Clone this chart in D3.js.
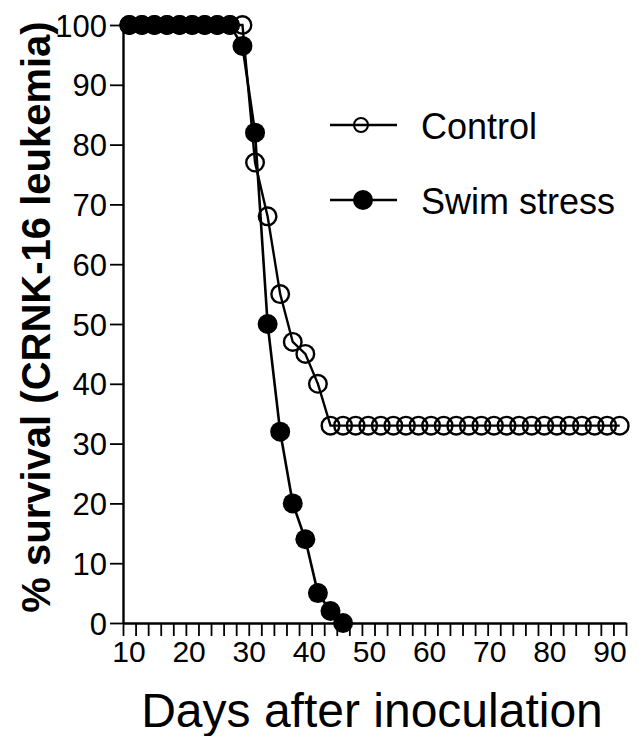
<!DOCTYPE html>
<html>
<head>
<meta charset="utf-8">
<script src="https://cdnjs.cloudflare.com/ajax/libs/d3/7.8.5/d3.min.js"></script>
<style>
body { margin: 0; background: #fff; }
svg text { font-family: "Liberation Sans", Arial, Helvetica, sans-serif; fill: #000; }
</style>
</head>
<body>
<svg id="chart" width="644" height="736"></svg>
<script>
// survival data
var controlDays = [11, 13, 15, 17, 19, 21, 23, 25, 27, 29, 31, 33, 35, 37, 39, 41, 43, 45, 47, 49,
    51, 53, 55, 57, 59, 61, 63, 65, 67, 69, 71, 73, 75, 77, 79, 81, 83, 85, 87, 89];
var controlSurvival = [100, 100, 100, 100, 100, 100, 100, 100, 100, 100, 77, 68, 55, 47, 45, 40, 33, 33, 33, 33,
    33, 33, 33, 33, 33, 33, 33, 33, 33, 33, 33, 33, 33, 33, 33, 33, 33, 33, 33, 33];
var swimDays = [11, 13, 15, 17, 19, 21, 23, 25, 27, 29, 31, 33, 35, 37, 39, 41, 43, 45];
var swimSurvival = [100, 100, 100, 100, 100, 100, 100, 100, 100, 96.5, 82, 50, 32, 20, 14, 5, 2, 0];
var xTickLabels = [10, 20, 30, 40, 50, 60, 70, 80, 90];
var yTickLabels = [0, 10, 20, 30, 40, 50, 60, 70, 80, 90, 100];
var seriesNames = ["Control", "Swim stress"];

var svg = d3.select('#chart');

var x = d3.scaleLinear().domain([10, 90]).range([123, 626]);
var y = d3.scaleLinear().domain([0, 100]).range([623, 25]);
// printed day labels sit slightly closer together than the ticks
var xLab = d3.scaleLinear().domain([10, 90]).range([129, 610]);

function pts(days, vals) {
    return days.map(function(d, i) { return [d, vals[i]]; });
}
var control = pts(controlDays, controlSurvival);
var swim = pts(swimDays, swimSurvival);

// axes
var xAxis = svg.append('g')
    .attr('transform', 'translate(0,' + y(0) + ')')
    .call(d3.axisBottom(x).tickValues(d3.range(10, 91, 2)).tickSize(13).tickSizeOuter(0).tickFormat(''));
xAxis.select('.domain').attr('stroke-width', 2.6);
xAxis.selectAll('.tick line').attr('stroke-width', 1.8);

svg.append('g').selectAll('text')
    .data(xTickLabels)
    .enter()
    .append('text')
    .attr('x', function(d) { return xLab(d); })
    .attr('y', 662)
    .attr('text-anchor', 'middle')
    .style('font-size', '30px')
    .text(function(d) { return d; });

var yAxis = svg.append('g')
    .attr('transform', 'translate(' + x(10) + ',0)')
    .call(d3.axisLeft(y).tickValues(yTickLabels).tickSize(13).tickSizeOuter(0).tickPadding(3));
yAxis.select('.domain').attr('stroke-width', 2.4);
yAxis.selectAll('.tick line').attr('stroke-width', 1.8);
yAxis.selectAll('.tick text')
    .style('font-size', '31px')
    .style('font-family', '"Liberation Sans", Arial, sans-serif')
    .attr('dy', '0.36em');

// axis titles
svg.append('text')
    .attr('transform', 'translate(50,' + 317 + ') rotate(-90)')
    .attr('text-anchor', 'middle')
    .style('font-size', '40px')
    .style('font-weight', 'bold')
    .text('% survival (CRNK-16 leukemia)');

svg.append('text')
    .attr('x', 372)
    .attr('y', 727)
    .attr('text-anchor', 'middle')
    .style('font-size', '48px')
    .text('Days after inoculation');

var line = d3.line()
    .x(function(d) { return x(d[0]); })
    .y(function(d) { return y(d[1]); });

// control (open circles)
svg.append('path')
    .datum(control)
    .attr('d', line)
    .attr('fill', 'none')
    .attr('stroke', '#000')
    .attr('stroke-width', 2.4);

svg.append('g').selectAll('circle')
    .data(control)
    .enter()
    .append('circle')
    .attr('cx', function(d) { return x(d[0]); })
    .attr('cy', function(d) { return y(d[1]); })
    .attr('r', 8.8)
    .attr('fill', 'none')
    .attr('stroke', '#000')
    .attr('stroke-width', 2.4);

// swim stress (filled circles)
svg.append('path')
    .datum(swim)
    .attr('d', line)
    .attr('fill', 'none')
    .attr('stroke', '#000')
    .attr('stroke-width', 2.6);

svg.append('g').selectAll('circle')
    .data(swim)
    .enter()
    .append('circle')
    .attr('cx', function(d) { return x(d[0]); })
    .attr('cy', function(d) { return y(d[1]); })
    .attr('r', 10)
    .attr('fill', '#000');

// legend
var legend = svg.append('g');
var legY = [125, 200];
legend.selectAll('line')
    .data(seriesNames)
    .enter()
    .append('line')
    .attr('x1', 330)
    .attr('x2', 397)
    .attr('y1', function(d, i) { return legY[i]; })
    .attr('y2', function(d, i) { return legY[i]; })
    .attr('stroke', '#000')
    .attr('stroke-width', 2.4);

legend.append('circle')
    .attr('cx', 361).attr('cy', legY[0]).attr('r', 7)
    .attr('fill', 'none').attr('stroke', '#000').attr('stroke-width', 2);
legend.append('circle')
    .attr('cx', 363).attr('cy', legY[1]).attr('r', 10)
    .attr('fill', '#000');

legend.selectAll('text')
    .data(seriesNames)
    .enter()
    .append('text')
    .attr('x', 421)
    .attr('y', function(d, i) { return legY[i] + 14; })
    .style('font-size', '36px')
    .text(function(d) { return d; });
</script>
</body>
</html>
